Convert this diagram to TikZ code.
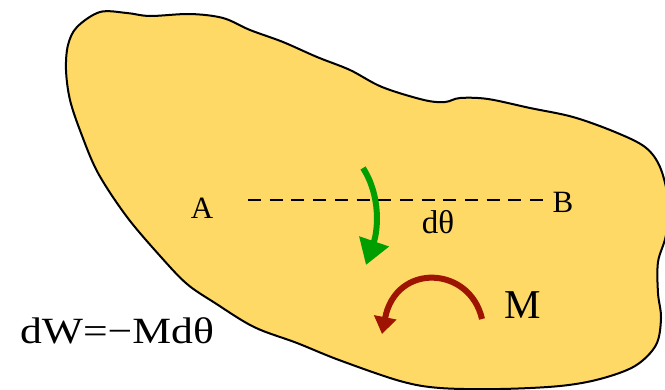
\documentclass[tikz,border=0pt]{standalone}
\usepackage{fontspec}
\setmainfont{Liberation Serif}
\usetikzlibrary{arrows.meta,positioning}
\definecolor{body}{RGB}{254,217,102}
\definecolor{turn}{RGB}{0,158,0}
\definecolor{moment}{RGB}{158,20,0}

\begin{document}
\begin{tikzpicture}[
  x=1pt,y=-1pt,
  lbl/.style={inner sep=0pt,anchor=base},
  outline/.style={fill=body,draw=black,line width=2pt},
  axis/.style={line width=2.2pt,dash pattern=on 13pt off 8.7pt},
  turnarr/.style={draw=turn,line width=6pt,-{Triangle[length=25pt,width=30pt]}},
  momarr/.style={draw=moment,line width=6pt,-{Triangle[length=17pt,width=22pt]}}
]
  \useasboundingbox (0,0) rectangle (665,389);
  \clip (0,0) rectangle (665,389);
  % the body
  \draw[outline] plot[smooth cycle,tension=0.55] coordinates {
    (100,12) (127,13) (150,16) (190,14) (223,18) (250,30) (283,42) (317,57)
    (350,70) (382,87) (424,100) (445,102) (460,98) (488,99) (530,108)
    (573,117) (615,132) (645,147) (660,167) (668,200) (666,235) (658,262)
    (658,293) (661,318) (656,345) (635,366) (600,379) (560,386) (500,389)
    (440,388) (400,381) (339,360) (297,343) (254,327) (215,303) (187,284)
    (161,257) (127,217) (98,173) (81,133) (70,100) (66,70) (68,45) (77,27)};
  \node[lbl,font=\fontsize{31}{36}\selectfont] (A) at (202,218) {A};
  \node[lbl,font=\fontsize{31}{36}\selectfont] (B) at (563,212) {B};
  \coordinate (ab1) at (248,200);
  \coordinate (ab2) at (549,200);
  \draw[axis] (ab1) -- (ab2);
  \node[lbl,font=\fontsize{33}{40}\selectfont] (dth) at (438,233) {dθ};
  % rotation and moment
  \coordinate (g1) at (363,168);
  \coordinate (g2) at (366,265);
  \draw[turnarr] (g1) .. controls (381,196) and (378,230) .. (g2);
  \coordinate (m1) at (482,319);
  \coordinate (m2) at (382,334);
  \draw[momarr] (m1) .. controls (470,266) and (396,262) .. (m2);
  \node[lbl,font=\fontsize{41}{48}\selectfont] (M) at (523,318) {M};
  \node[lbl,font=\fontsize{37}{44}\selectfont] (work) at (117,343) {\scalebox{1.18}[1]{dW=−Mdθ}};
\end{tikzpicture}
\end{document}
